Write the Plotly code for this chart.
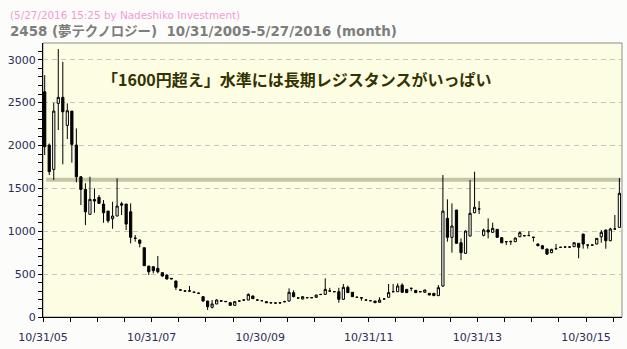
import plotly.graph_objects as go

# Monthly OHLC, 10/2005 .. 5/2016 (index 0 = 10/31/05)
opens = [2626, 2005, 1721, 2491, 2561, 2234, 2401, 2005, 1635, 1488,
         1197, 1370, 1395, 1317, 1235, 1146, 1177, 1320, 1317, 1227,
         917, 897, 808, 594, 586, 567, 517, 490, 451, 420,
         315, 303, 305, 290, 278, 237, 186, 113, 152, 190,
         182, 167, 136, 186, 198, 198, 245, 198, 190, 179,
         167, 163, 165, 179, 186, 284, 222, 210, 225, 225,
         230, 264, 264, 303, 295, 295, 206, 346, 288, 230,
         225, 198, 190, 186, 171, 210, 230, 295, 295, 373,
         322, 334, 311, 295, 288, 276, 276, 249, 361, 1150,
         929, 1247, 866, 742, 944, 1216, 1259, 952, 1014, 987,
         1022, 925, 878, 878, 878, 936, 948, 948, 929, 851,
         831, 793, 750, 796, 812, 816, 816, 820, 859, 967,
         839, 839, 851, 936, 1014, 889, 1026, 1045]
highs = [2820, 2024, 2498, 3124, 2976, 2491, 2401, 2199, 1640, 1560,
         1635, 1500, 1422, 1364, 1235, 1344, 1617, 1344, 1317, 1325,
         956, 905, 808, 594, 590, 711, 520, 495, 455, 422,
         320, 310, 361, 295, 285, 240, 190, 198, 207, 195,
         186, 170, 182, 192, 205, 275, 250, 205, 195, 182,
         172, 168, 170, 190, 334, 311, 225, 240, 230, 230,
         260, 270, 451, 340, 300, 340, 385, 365, 290, 235,
         228, 202, 194, 188, 230, 214, 385, 385, 392, 392,
         325, 340, 315, 300, 318, 280, 278, 373, 1655, 1372,
         1325, 1250, 917, 1010, 1597, 1694, 1352, 1030, 1150, 1100,
         1025, 930, 885, 885, 925, 1000, 955, 1002, 935, 860,
         835, 795, 795, 851, 820, 822, 822, 870, 862, 970,
         845, 845, 920, 1014, 1020, 1040, 1189, 1620]
lows = [1888, 1655, 1597, 2180, 1780, 2075, 1800, 1570, 1305, 1072,
        1197, 1216, 1325, 1099, 1099, 1029, 1177, 1189, 1014, 859,
        878, 812, 598, 490, 509, 509, 470, 439, 440, 315,
        305, 295, 298, 280, 270, 180, 82, 100, 150, 180,
        175, 130, 130, 180, 192, 195, 210, 192, 185, 165,
        160, 158, 160, 170, 180, 230, 210, 205, 220, 220,
        225, 255, 260, 300, 290, 167, 200, 280, 235, 225,
        190, 195, 186, 165, 168, 206, 226, 290, 292, 280,
        280, 300, 280, 290, 285, 255, 249, 245, 353, 878,
        750, 859, 664, 740, 940, 1210, 1200, 940, 917, 980,
        925, 860, 839, 839, 875, 930, 940, 945, 878, 825,
        790, 723, 745, 790, 805, 810, 810, 815, 684, 797,
        797, 830, 848, 866, 796, 885, 1020, 1040]
closes = [1985, 1694, 2401, 2561, 2393, 2405, 2013, 1635, 1488, 1227,
          1372, 1352, 1325, 1216, 1122, 1177, 1294, 1305, 1084, 929,
          920, 859, 598, 528, 540, 528, 478, 443, 445, 346,
          315, 303, 303, 288, 276, 186, 120, 152, 198, 186,
          179, 136, 179, 186, 198, 264, 214, 198, 190, 167,
          165, 163, 165, 179, 288, 237, 222, 237, 225, 225,
          256, 262, 322, 303, 295, 206, 346, 284, 237, 230,
          222, 198, 190, 167, 198, 210, 284, 295, 361, 288,
          284, 334, 284, 295, 315, 256, 249, 342, 1235, 929,
          1061, 859, 750, 1002, 1209, 1279, 1259, 1014, 991, 1034,
          929, 866, 878, 882, 921, 983, 948, 950, 929, 831,
          796, 734, 789, 796, 812, 816, 816, 866, 812, 851,
          839, 839, 917, 987, 889, 1026, 1026, 1442]
months = list(range(len(opens)))

tick_months = [0, 24, 48, 72, 96, 120]
tick_labels = ["10/31/05", "10/31/07", "10/30/09", "10/31/11", "10/31/13", "10/30/15"]
resistance = 1600

OFF = -0.375  # tick marks sit at the left edge of each month slot

fig = go.Figure()
fig.add_trace(go.Candlestick(
    x=months, open=opens, high=highs, low=lows, close=closes,
    increasing=dict(line=dict(color="black", width=1), fillcolor="white"),
    decreasing=dict(line=dict(color="black", width=1), fillcolor="black"),
    whiskerwidth=0, hoverinfo="skip", showlegend=False,
))

fig.add_shape(type="rect", xref="paper", yref="paper", x0=0, x1=1, y0=0, y1=1,
              line=dict(color="#8c8c8c", width=1), layer="below")
fig.add_shape(type="line", xref="x", yref="y", x0=0.35, x1=127.6,
              y0=resistance, y1=resistance,
              line=dict(color="#c5c5a8", width=4), layer="below")

fig.add_annotation(text="「1600円超え」水準には長期レジスタンスがいっぱい",
                   xref="paper", yref="paper", x=0.437, y=0.868,
                   xanchor="center", yanchor="middle", showarrow=False,
                   font=dict(family="Noto Sans CJK JP", size=16, color="#333300", weight="bold"))
fig.add_annotation(text="2458 (夢テクノロジー)  10/31/2005-5/27/2016 (month)",
                   xref="paper", yref="paper", x=-35/579, y=(317-31)/274,
                   xanchor="left", yanchor="middle", showarrow=False,
                   font=dict(family="DejaVu Sans, Noto Sans CJK JP", size=13.4, color="#7d7d7d", weight="bold"))
fig.add_annotation(text="(5/27/2016 15:25 by Nadeshiko Investment)",
                   xref="paper", yref="paper", x=-35/579, y=(317-15)/274,
                   xanchor="left", yanchor="middle", showarrow=False,
                   font=dict(family="DejaVu Sans", size=10.4, color="#f49ad2"))

fig.update_layout(
    width=627, height=349,
    margin=dict(l=43, r=5, t=43, b=32),
    paper_bgcolor="#fcfdfa",
    plot_bgcolor="#fdfde3",
    font=dict(family="DejaVu Sans", size=11, color="#2b2b55"),
    xaxis=dict(
        range=[OFF, 127.58], rangeslider=dict(visible=False), automargin=False,
        tickmode="array", tickvals=[m + OFF for m in tick_months], ticktext=tick_labels,
        showgrid=False, zeroline=False,
        showline=True, linecolor="black", linewidth=1,
        ticks="outside", ticklen=4, tickcolor="black", ticklabelstandoff=6,
        minor=dict(tickmode="linear", tick0=OFF, dtick=6, ticks="outside", ticklen=4, tickcolor="black", showgrid=False),
    ),
    yaxis=dict(
        range=[0, 3195], dtick=500, tick0=0, automargin=False,
        showgrid=True, gridcolor="#c4c4c4", gridwidth=1, griddash="5px,4px",
        zeroline=False,
        showline=True, linecolor="black", linewidth=1,
        ticks="outside", ticklen=4, tickcolor="black",
        minor=dict(dtick=100, ticks="outside", ticklen=4, tickcolor="black", showgrid=False),
    ),
)

fig.write_html("out.html")
